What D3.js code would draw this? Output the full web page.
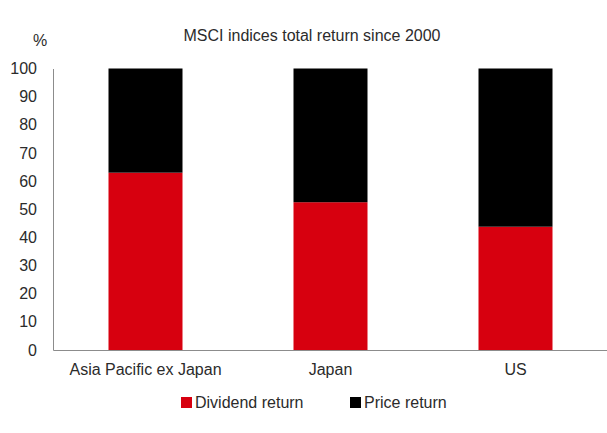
<!DOCTYPE html>
<html>
<head>
<meta charset="utf-8">
<script src="https://cdn.jsdelivr.net/npm/d3@7"></script>
<style>
  body { margin: 0; background: #fff; }
  text { font-family: "Liberation Sans", Arial, sans-serif; fill: #2b2b2b; }
</style>
</head>
<body>
<div id="chart"></div>
<script>
var categories = ["Asia Pacific ex Japan", "Japan", "US"];
var dividendReturn = [63, 52.5, 43.8];
var priceReturn = [37, 47.5, 56.2];
var yTicks = [0, 10, 20, 30, 40, 50, 60, 70, 80, 90, 100];
var seriesNames = ["Dividend return", "Price return"];
var seriesColors = ["#d7000f", "#000000"];

var width = 607, height = 433;
var margin = {top: 68.5, right: 0, bottom: 83, left: 53};

var svg = d3.select("#chart").append("svg")
    .attr("width", width)
    .attr("height", height);

var x = d3.scaleBand()
    .domain(categories)
    .range([margin.left, width + 1])
    .paddingInner(0.6)
    .paddingOuter(0.3);

var y = d3.scaleLinear()
    .domain([0, 100])
    .range([height - margin.bottom, margin.top]);

// stack the two series
var rows = categories.map(function(c, i) {
    return {cat: c, "Dividend return": dividendReturn[i], "Price return": priceReturn[i]};
});
var stacked = d3.stack().keys(seriesNames)(rows);

svg.selectAll(".series")
    .data(stacked)
  .enter().append("g")
    .attr("fill", function(d, i) { return seriesColors[i]; })
  .selectAll("rect")
    .data(function(d) { return d; })
  .enter().append("rect")
    .attr("x", function(d) { return x(d.data.cat); })
    .attr("width", x.bandwidth())
    .attr("y", function(d) { return y(d[1]); })
    .attr("height", function(d) { return y(d[0]) - y(d[1]); });

// y axis
var yAxis = svg.append("g")
    .attr("transform", "translate(" + margin.left + ",0)")
    .call(d3.axisLeft(y).tickValues(yTicks).tickSize(0).tickPadding(16));
yAxis.select(".domain").attr("stroke", "#8c8c8c");
yAxis.selectAll("text").style("font-size", "16px").attr("fill", "#2b2b2b");

// x axis
var xAxis = svg.append("g")
    .attr("transform", "translate(0," + (height - margin.bottom) + ")")
    .call(d3.axisBottom(x).tickSize(0).tickPadding(14));
xAxis.select(".domain").attr("stroke", "#8c8c8c");
xAxis.selectAll("text").style("font-size", "16px").attr("fill", "#2b2b2b");

// title and unit
svg.append("text")
    .attr("x", 312)
    .attr("y", 41)
    .attr("text-anchor", "middle")
    .style("font-size", "16px")
    .text("MSCI indices total return since 2000");

svg.append("text")
    .attr("x", 40)
    .attr("y", 46)
    .attr("text-anchor", "middle")
    .style("font-size", "16px")
    .text("%");

// legend
var legendX = [181, 350];
var legend = svg.selectAll(".legend")
    .data(seriesNames)
  .enter().append("g")
    .attr("transform", function(d, i) { return "translate(" + legendX[i] + ",397)"; });
legend.append("rect")
    .attr("width", 11)
    .attr("height", 11)
    .attr("fill", function(d, i) { return seriesColors[i]; });
legend.append("text")
    .attr("x", 14)
    .attr("y", 11)
    .style("font-size", "16px")
    .text(function(d) { return d; });
</script>
</body>
</html>
